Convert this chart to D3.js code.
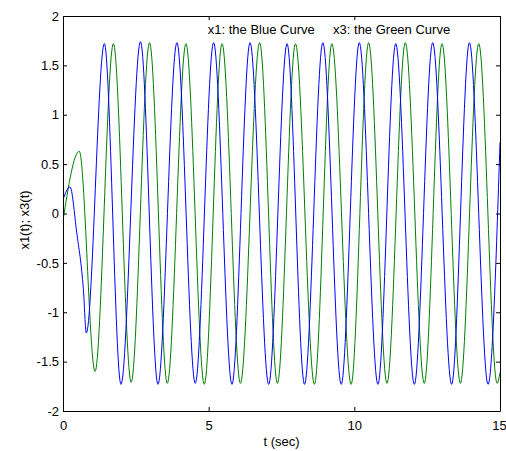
<!DOCTYPE html>
<html>
<head>
<meta charset="utf-8">
<script src="https://cdn.jsdelivr.net/npm/d3@7"></script>
<style>
  body { margin: 0; background: #fff; }
  text { font-family: "Liberation Sans", Arial, sans-serif; }
</style>
</head>
<body>
<div id="chart"></div>
<script>
// values: [t, value] at the turning points
const blueT = [0, 0.24, 0.47, 0.70, 0.80, 1.42, 1.99, 2.66, 3.26, 3.91, 4.54, 5.17, 5.80, 6.42, 7.06, 7.69, 8.29, 8.92, 9.55, 10.17, 10.81, 11.42, 12.06, 12.69, 13.34, 13.95, 14.59, 15];
const blueV = [0.14, 0.27, -0.19, -0.77, -1.21, 1.72, -1.73, 1.74, -1.73, 1.73, -1.72, 1.73, -1.73, 1.73, -1.73, 1.72, -1.73, 1.73, -1.73, 1.73, -1.73, 1.72, -1.73, 1.73, -1.73, 1.73, -1.73, 0.72];

const greenT = [0, 0.56, 1.10, 1.73, 2.34, 2.97, 3.58, 4.22, 4.85, 5.46, 6.09, 6.75, 7.36, 7.98, 8.63, 9.23, 9.89, 10.49, 11.12, 11.75, 12.40, 13.01, 13.64, 14.27, 14.90, 15];
const greenV = [-0.07, 0.63, -1.60, 1.72, -1.71, 1.73, -1.72, 1.72, -1.73, 1.72, -1.72, 1.73, -1.72, 1.72, -1.73, 1.72, -1.73, 1.73, -1.72, 1.73, -1.72, 1.72, -1.72, 1.72, -1.72, -1.61];

const xTicks = [0, 5, 10, 15];
const xTickLabels = ["0", "5", "10", "15"];
const yTicks = [-2, -1.5, -1, -0.5, 0, 0.5, 1, 1.5, 2];
const yTickLabels = ["-2", "-1.5", "-1", "-0.5", "0", "0.5", "1", "1.5", "2"];

const width = 506;
const height = 451;
const mLeft = 63, mRight = 500, mTop = 16, mBottom = 411;

const svg = d3.select("#chart")
  .append("svg")
  .attr("width", width)
  .attr("height", height);

svg.append("rect")
  .attr("width", width)
  .attr("height", height)
  .attr("fill", "#fff");

const x = d3.scaleLinear().domain([0, 15]).range([mLeft, mRight]);
const y = d3.scaleLinear().domain([-2, 2]).range([mBottom, mTop]);

svg.append("defs").append("clipPath")
  .attr("id", "plot-clip")
  .append("rect")
  .attr("x", mLeft)
  .attr("y", mTop)
  .attr("width", mRight - mLeft)
  .attr("height", mBottom - mTop);

const line = d3.line()
  .x(d => x(d[0]))
  .y(d => y(d[1]))
  .curve(d3.curveMonotoneX);

const blue = blueT.map((t, i) => [t, blueV[i]]);
const green = greenT.map((t, i) => [t, greenV[i]]);

const plot = svg.append("g").attr("clip-path", "url(#plot-clip)");

plot.append("path")
  .datum(green)
  .attr("d", line)
  .attr("fill", "none")
  .attr("stroke", "#008000")
  .attr("stroke-width", 1);

plot.append("path")
  .datum(blue)
  .attr("d", line)
  .attr("fill", "none")
  .attr("stroke", "#0000ff")
  .attr("stroke-width", 1);

// axes, ticks pointing inward like matlab
function styleAxis(g) {
  g.selectAll(".domain").attr("stroke", "#000").attr("stroke-width", 1);
  g.selectAll(".tick line").attr("stroke", "#000");
  g.selectAll("text").attr("font-size", 13).attr("fill", "#000")
    .attr("font-family", "'Liberation Sans', Arial, sans-serif");
}

const xAxisG = svg.append("g")
  .attr("transform", `translate(0,${mBottom})`)
  .call(d3.axisBottom(x).tickValues(xTicks).tickFormat((d, i) => xTickLabels[i])
    .tickSizeInner(-4).tickSizeOuter(0).tickPadding(10))
  .call(styleAxis);

// keep the last label inside the window
xAxisG.selectAll(".tick text").filter(d => d === 15).attr("dx", -1);

svg.append("g")
  .attr("transform", `translate(0,${mTop})`)
  .call(d3.axisTop(x).tickValues(xTicks).tickFormat("")
    .tickSizeInner(-4).tickSizeOuter(0))
  .call(styleAxis);

svg.append("g")
  .attr("transform", `translate(${mLeft},0)`)
  .call(d3.axisLeft(y).tickValues(yTicks).tickFormat((d, i) => yTickLabels[i])
    .tickSizeInner(-4).tickSizeOuter(0).tickPadding(4))
  .call(styleAxis);

svg.append("g")
  .attr("transform", `translate(${mRight},0)`)
  .call(d3.axisRight(y).tickValues(yTicks).tickFormat("")
    .tickSizeInner(-4).tickSizeOuter(0))
  .call(styleAxis);

// curve labels placed in data coordinates
svg.append("text")
  .attr("x", x(4.97))
  .attr("y", y(1.82))
  .attr("font-size", 13)
  .text("x1: the Blue Curve");

svg.append("text")
  .attr("x", x(9.27))
  .attr("y", y(1.82))
  .attr("font-size", 13)
  .text("x3: the Green Curve");

svg.append("text")
  .attr("x", (mLeft + mRight) / 2)
  .attr("y", 446)
  .attr("text-anchor", "middle")
  .attr("font-size", 13)
  .text("t (sec)");

svg.append("text")
  .attr("transform", "translate(29,220) rotate(-90)")
  .attr("text-anchor", "middle")
  .attr("font-size", 13)
  .text("x1(t); x3(t)");
</script>
</body>
</html>
